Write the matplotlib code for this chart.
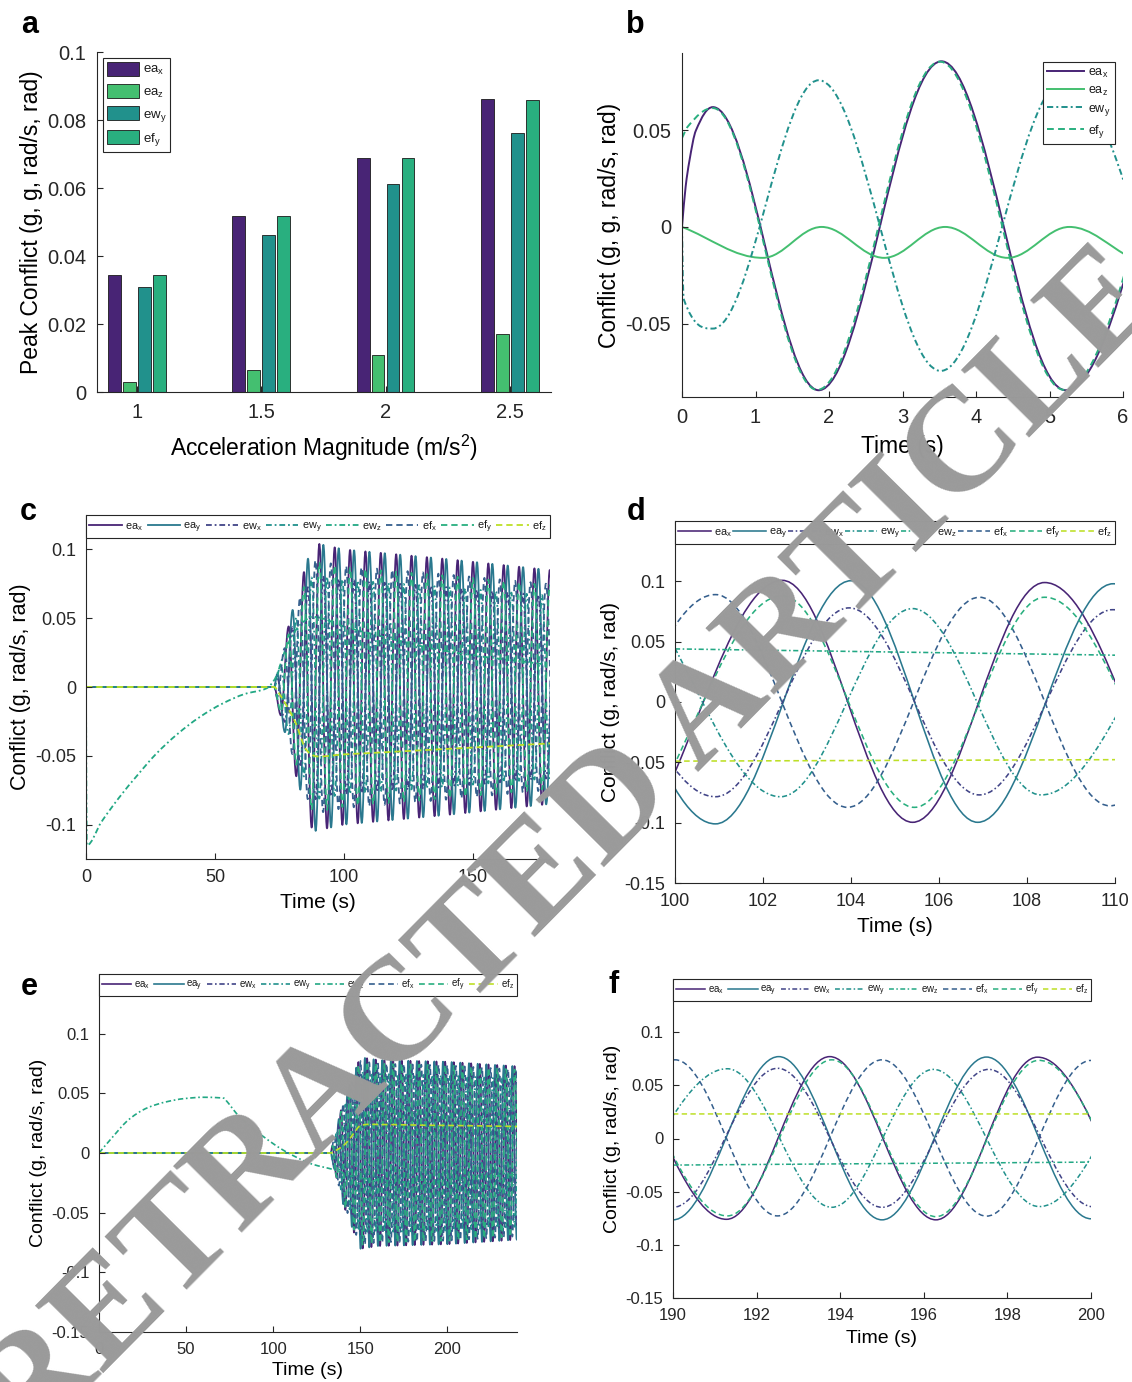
import numpy as np
import matplotlib
matplotlib.use("Agg")
import matplotlib.pyplot as plt
from matplotlib.path import Path
from matplotlib.patches import PathPatch
from matplotlib.lines import Line2D

plt.rcParams.update({
    "font.family": ["Liberation Sans", "DejaVu Sans"],
    "mathtext.fontset": "custom",
    "mathtext.rm": "Liberation Sans",
    "axes.unicode_minus": False,
    "axes.edgecolor": "#262626",
    "xtick.color": "#262626",
    "ytick.color": "#262626",
    "text.color": "#1a1a1a",
})

# ---------------- panel a: peak conflict bars ----------------
acc_mag = [1.0, 1.5, 2.0, 2.5]
peak_ea_x = [0.0345, 0.0518, 0.0689, 0.0861]
peak_ea_z = [0.0028, 0.0064, 0.0110, 0.0170]
peak_ew_y = [0.0309, 0.0461, 0.0613, 0.0763]
peak_ef_y = [0.0345, 0.0517, 0.0689, 0.0859]

# ---------------- panel b: 0-6 s, extrema / key points ----------------
b_ea_x_t = [0, 0.05, 0.10, 0.19, 0.42, 1.86, 3.53, 5.22, 6.89]
b_ea_x_v = [0, 0.021, 0.034, 0.050, 0.062, -0.0845, 0.0857, -0.0845, 0.085]
b_ea_z_t = [0, 1.10, 1.90, 2.75, 3.58, 4.43, 5.27, 6.11]
b_ea_z_v = [0, -0.016, 0, -0.016, 0, -0.016, 0, -0.016]
b_ew_y_t = [0, 0.02, 0.42, 1.86, 3.52, 5.20, 6.87]
b_ew_y_v = [0, -0.037, -0.0526, 0.0759, -0.0745, 0.0759, -0.075]
b_ef_y_t = [0, 0.08, 0.42, 1.84, 3.51, 5.20, 6.87]
b_ef_y_v = [0.046, 0.052, 0.0615, -0.0843, 0.0855, -0.0843, 0.085]

series = ["ea_x", "ea_y", "ew_x", "ew_y", "ew_z", "ef_x", "ef_y", "ef_z"]
labels = [r"ea$_\mathrm{x}$", r"ea$_\mathrm{y}$", r"ew$_\mathrm{x}$", r"ew$_\mathrm{y}$",
          r"ew$_\mathrm{z}$", r"ef$_\mathrm{x}$", r"ef$_\mathrm{y}$", r"ef$_\mathrm{z}$"]
osc = ["ea_x", "ea_y", "ew_x", "ew_y", "ef_x", "ef_y"]

# ---------------- panel c: 0-180 s ----------------
c_onset = 73.0
c_end = 180.0
c_half_period = 2.98
c_env_t = [73, 80, 88, 100, 140, 180]
c_env_v = [0.0, 0.55, 1.05, 1.0, 0.93, 0.85]
c_amp = [0.100, 0.100, 0.078, 0.078, 0.088, 0.087]
c_peak_t = [102.44, 104.0, 103.96, 105.4, 100.92, 102.44]
c_ew_z_t = [0, 0.3, 6, 13, 20, 27, 35.6, 44, 53, 61.7, 70, 73, 78, 83, 88, 100, 110, 140, 180]
c_ew_z_v = [0, -0.115, -0.098, -0.080, -0.064, -0.049, -0.034, -0.022, -0.012, -0.005,
            -0.001, 0.005, 0.030, 0.045, 0.051, 0.044, 0.039, 0.026, 0.016]
c_ef_z_t = [0, 73, 75, 81.3, 85.6, 88.5, 90, 100, 110, 124, 150, 180]
c_ef_z_v = [0, 0, -0.005, -0.026, -0.046, -0.050, -0.0505, -0.049, -0.048, -0.0466, -0.044, -0.041]

# ---------------- panel d: 100-110 s ----------------
d_ea_x_t = [99.46, 102.44, 105.4, 108.4, 111.38]
d_ea_x_v = [-0.100, 0.1008, -0.0997, 0.099, -0.099]
d_ea_y_t = [97.9, 100.92, 104.0, 106.88, 109.96, 112.9]
d_ea_y_v = [0.100, -0.101, 0.1005, -0.0997, 0.098, -0.098]
d_ew_x_t = [97.9, 100.92, 103.96, 106.92, 109.95, 112.9]
d_ew_x_v = [0.078, -0.0785, 0.078, -0.077, 0.0765, -0.076]
d_ew_y_t = [99.45, 102.4, 105.4, 108.32, 111.45]
d_ew_y_v = [0.078, -0.0785, 0.0774, -0.077, 0.077]
d_ew_z_t = [100, 110]
d_ew_z_v = [0.044, 0.0388]
d_ef_x_t = [97.9, 100.92, 103.92, 106.92, 109.88, 112.85]
d_ef_x_v = [-0.088, 0.089, -0.0873, 0.0868, -0.086, 0.086]
d_ef_y_t = [99.46, 102.44, 105.44, 108.4, 111.38]
d_ef_y_v = [-0.087, 0.088, -0.0873, 0.0868, -0.086]
d_ef_z_t = [100, 110]
d_ef_z_v = [-0.049, -0.0478]

# ---------------- panel e: 0-240 s ----------------
e_onset = 133.0
e_end = 240.0
e_half_period = 2.49
e_env_t = [133, 140, 150, 160, 200, 240]
e_env_v = [0.0, 0.55, 1.05, 1.02, 1.0, 0.95]
e_amp = [0.0765, 0.0765, 0.065, 0.065, 0.0735, 0.0735]
e_peak_t = [193.75, 192.53, 192.5, 191.3, 195.0, 193.8]
e_ew_z_t = [0, 7, 17.6, 28, 39, 49, 60, 70, 72, 73, 75, 79, 87.5, 96, 104.4, 113, 121.4,
            130, 135, 150, 190, 200, 240]
e_ew_z_v = [0, 0.012, 0.0286, 0.038, 0.043, 0.0456, 0.0467, 0.0462, 0.0458, 0.044, 0.0405,
            0.033, 0.0217, 0.012, 0.0036, -0.0033, -0.0089, -0.0122, -0.014, -0.021,
            -0.025, -0.022, -0.018]
e_ef_z_t = [0, 133, 137, 140.5, 144.7, 148, 150, 155, 190, 200, 240]
e_ef_z_v = [0, 0, 0.003, 0.0064, 0.0133, 0.020, 0.023, 0.024, 0.0232, 0.0231, 0.0222]

# ---------------- panel f: 190-200 s ----------------
f_ea_x_t = [188.78, 191.28, 193.75, 196.29, 198.72, 201.2]
f_ea_x_v = [0.0765, -0.076, 0.077, -0.0765, 0.0765, -0.0765]
f_ea_y_t = [187.5, 190.0, 192.53, 195.0, 197.5, 200.0, 202.5]
f_ea_y_v = [0.076, -0.0765, 0.077, -0.0765, 0.0766, -0.0755, 0.075]
f_ew_x_t = [187.5, 190.0, 192.5, 195.0, 197.55, 200.05, 202.5]
f_ew_x_v = [0.065, -0.0647, 0.066, -0.0647, 0.065, -0.0642, 0.064]
f_ew_y_t = [188.6, 191.3, 193.8, 196.23, 198.76, 201.25]
f_ew_y_v = [-0.064, 0.0656, -0.0647, 0.065, -0.064, 0.064]
f_ew_z_t = [190, 200]
f_ew_z_v = [-0.025, -0.0222]
f_ef_x_t = [187.55, 190.05, 192.5, 195.0, 197.5, 200.0, 202.5]
f_ef_x_v = [-0.073, 0.074, -0.0728, 0.074, -0.073, 0.0734, -0.073]
f_ef_y_t = [188.8, 191.3, 193.8, 196.29, 198.75, 201.2]
f_ef_y_v = [0.073, -0.0728, 0.074, -0.0735, 0.0735, -0.073]
f_ef_z_t = [190, 200]
f_ef_z_v = [0.0231, 0.0231]

# ---------------- styles ----------------
col = {"ea_x": "#482475", "ea_y": "#2a788e", "ew_x": "#414487", "ew_y": "#21918c",
       "ew_z": "#22a884", "ef_x": "#355f8d", "ef_y": "#29af7f", "ef_z": "#bddf26",
       "ea_z": "#44bf70"}
DASH = (0, (3.5, 2.2))
DASHDOT = (0, (3.2, 1.6, 1.0, 1.6))
sty = {"ea": "-", "ew": DASHDOT, "ef": DASH}

W, H = 1132, 1382


def box(l, t, r, b):
    return [l / W, 1 - b / H, (r - l) / W, (b - t) / H]


def smooth_path(t, v):
    # cubic bezier through the points, flat at turning points
    t = np.asarray(t, float)
    v = np.asarray(v, float)
    d = np.diff(v) / np.diff(t)
    m = np.zeros(len(t))
    m[0] = d[0]
    m[-1] = d[-1]
    for i in range(1, len(t) - 1):
        if d[i - 1] * d[i] > 0:
            h0 = t[i] - t[i - 1]
            h1 = t[i + 1] - t[i]
            w1 = 2 * h1 + h0
            w2 = h1 + 2 * h0
            m[i] = (w1 + w2) / (w1 / d[i - 1] + w2 / d[i])
    a = 0.36
    verts = [(t[0], v[0])]
    codes = [Path.MOVETO]
    for i in range(len(t) - 1):
        h = t[i + 1] - t[i]
        verts += [(t[i] + a * h, v[i] + m[i] * a * h),
                  (t[i + 1] - a * h, v[i + 1] - m[i + 1] * a * h),
                  (t[i + 1], v[i + 1])]
        codes += [Path.CURVE4] * 3
    return Path(verts, codes)


def draw(ax, t, v, name, lw):
    ls = sty[name[:2]] if name != "ea_z" else "-"
    ax.add_patch(PathPatch(smooth_path(t, v), fill=False, edgecolor=col[name],
                           lw=lw, linestyle=ls, capstyle="butt", joinstyle="round"))
    return Line2D([], [], color=col[name], lw=lw, linestyle=ls)


def band(onset, end, half, env_t, env_v, amp, peak):
    k0 = int(np.floor((onset - peak) / half))
    k1 = int(np.ceil((end - peak) / half)) + 1
    tk = peak + half * np.arange(k0, k1)
    sign = np.where(np.arange(k0, k1) % 2 == 0, 1.0, -1.0)
    keep = tk > onset
    tk = tk[keep]
    vk = amp * sign[keep] * np.interp(tk, env_t, env_v)
    return [0.0, onset] + list(tk), [0.0, 0.0] + list(vk)


def style_axes(ax, fs, pad=7):
    for s in ["top", "right"]:
        ax.spines[s].set_visible(False)
    for s in ["left", "bottom"]:
        ax.spines[s].set_linewidth(0.8)
    ax.tick_params(direction="in", length=4, width=0.8, labelsize=fs, pad=pad)


def top_legend(ax, handles, fs):
    leg = ax.legend(handles, labels, loc="upper left", bbox_to_anchor=(0, 1, 1, 0),
                    mode="expand", ncol=8, borderaxespad=0, fontsize=fs,
                    handlelength=3.0, handletextpad=0.3, columnspacing=0.5,
                    borderpad=0.3, fancybox=False, framealpha=1)
    leg.get_frame().set_edgecolor("#262626")
    leg.get_frame().set_linewidth(0.8)
    leg.set_zorder(20)


def ticklabels(vals):
    out = []
    for x in vals:
        s = ("%.2f" % x).rstrip("0").rstrip(".")
        out.append("0" if s in ("-0", "0") else s)
    return out


fig = plt.figure(figsize=(W / 100, H / 100), dpi=100)

# ---- a ----
ax = fig.add_axes(box(97, 52, 551, 392))
bw = 0.051
offs = [-0.09, -0.03, 0.03, 0.09]
xs = np.array(acc_mag)
for o, vals, nm, lab in zip(offs, [peak_ea_x, peak_ea_z, peak_ew_y, peak_ef_y],
                            ["ea_x", "ea_z", "ew_y", "ef_y"],
                            [r"ea$_\mathrm{x}$", r"ea$_\mathrm{z}$", r"ew$_\mathrm{y}$", r"ef$_\mathrm{y}$"]):
    ax.bar(xs + o, vals, width=bw, color=col[nm], edgecolor="#1a1a1a", lw=0.6, label=lab)
ax.set_xlim(0.84, 2.665)
ax.set_ylim(0, 0.1)
ax.set_xticks(acc_mag, ["1", "1.5", "2", "2.5"])
yt = [0, 0.02, 0.04, 0.06, 0.08, 0.1]
ax.set_yticks(yt, ticklabels(yt))
style_axes(ax, 14.5, pad=8)
ax.set_ylabel("Peak Conflict (g, g, rad/s, rad)", fontsize=16.5, labelpad=3)
ax.set_xlabel(r"Acceleration Magnitude (m/s$^\mathrm{2}$)", fontsize=16.5, labelpad=8)
leg = ax.legend(loc="upper left", fontsize=9.5, handlelength=2.4, handleheight=1.25,
                handletextpad=0.3, labelspacing=0.5, borderpad=0.3, borderaxespad=0.45,
                fancybox=False, framealpha=1)
leg.get_frame().set_edgecolor("#262626")
leg.get_frame().set_linewidth(0.8)

# ---- b ----
ax = fig.add_axes(box(682, 53, 1123, 397))
hb = [draw(ax, b_ea_x_t, b_ea_x_v, "ea_x", 1.4),
      draw(ax, b_ea_z_t, b_ea_z_v, "ea_z", 1.4),
      draw(ax, b_ew_y_t, b_ew_y_v, "ew_y", 1.4),
      draw(ax, b_ef_y_t, b_ef_y_v, "ef_y", 1.4)]
ax.set_xlim(0, 6)
ax.set_ylim(-0.088, 0.09)
ax.set_xticks(range(7))
yt = [-0.05, 0, 0.05]
ax.set_yticks(yt, ticklabels(yt))
style_axes(ax, 14.5, pad=8)
ax.set_ylabel("Conflict (g, g, rad/s, rad)", fontsize=16.5, labelpad=3)
ax.set_xlabel("Time (s)", fontsize=16.5, labelpad=6)
leg = ax.legend(hb, [r"ea$_\mathrm{x}$", r"ea$_\mathrm{z}$", r"ew$_\mathrm{y}$", r"ef$_\mathrm{y}$"],
                loc="upper right", fontsize=9, handlelength=3.0, handletextpad=0.3,
                labelspacing=0.4, borderpad=0.35, borderaxespad=0,
                fancybox=False, framealpha=1, bbox_to_anchor=(0.982, 0.973))
leg.get_frame().set_edgecolor("#262626")
leg.get_frame().set_linewidth(0.8)

# ---- c ----
ax = fig.add_axes(box(86, 515, 550, 859))
hc = []
for nm in series:
    if nm in osc:
        i = osc.index(nm)
        t, v = band(c_onset, c_end, c_half_period, c_env_t, c_env_v, c_amp[i], c_peak_t[i])
    elif nm == "ew_z":
        t, v = c_ew_z_t, c_ew_z_v
    else:
        t, v = c_ef_z_t, c_ef_z_v
    hc.append(draw(ax, t, v, nm, 1.3))
ax.set_xlim(0, 180)
ax.set_ylim(-0.125, 0.125)
ax.set_xticks([0, 50, 100, 150])
yt = [-0.1, -0.05, 0, 0.05, 0.1]
ax.set_yticks(yt, ticklabels(yt))
style_axes(ax, 13)
ax.set_ylabel("Conflict (g, rad/s, rad)", fontsize=15.5, labelpad=3)
ax.set_xlabel("Time (s)", fontsize=15, labelpad=5)
top_legend(ax, hc, 7.8)

# ---- d ----
ax = fig.add_axes(box(675, 521, 1115, 883))
dd = [(d_ea_x_t, d_ea_x_v), (d_ea_y_t, d_ea_y_v), (d_ew_x_t, d_ew_x_v), (d_ew_y_t, d_ew_y_v),
      (d_ew_z_t, d_ew_z_v), (d_ef_x_t, d_ef_x_v), (d_ef_y_t, d_ef_y_v), (d_ef_z_t, d_ef_z_v)]
hd = [draw(ax, t, v, nm, 1.15) for (t, v), nm in zip(dd, series)]
ax.set_xlim(100, 110)
ax.set_ylim(-0.15, 0.15)
ax.set_xticks(range(100, 111, 2))
yt = [-0.15, -0.1, -0.05, 0, 0.05, 0.1]
ax.set_yticks(yt, ticklabels(yt))
style_axes(ax, 13)
ax.set_ylabel("Conflict (g, rad/s, rad)", fontsize=15, labelpad=3)
ax.set_xlabel("Time (s)", fontsize=15, labelpad=5)
top_legend(ax, hd, 7.8)

# ---- e ----
ax = fig.add_axes(box(99, 974, 517, 1332))
he = []
for nm in series:
    if nm in osc:
        i = osc.index(nm)
        t, v = band(e_onset, e_end, e_half_period, e_env_t, e_env_v, e_amp[i], e_peak_t[i])
    elif nm == "ew_z":
        t, v = e_ew_z_t, e_ew_z_v
    else:
        t, v = e_ef_z_t, e_ef_z_v
    he.append(draw(ax, t, v, nm, 1.2))
ax.set_xlim(0, 240)
ax.set_ylim(-0.15, 0.15)
ax.set_xticks([0, 50, 100, 150, 200])
yt = [-0.15, -0.1, -0.05, 0, 0.05, 0.1]
ax.set_yticks(yt, ticklabels(yt))
style_axes(ax, 12)
ax.set_ylabel("Conflict (g, rad/s, rad)", fontsize=14, labelpad=3)
ax.set_xlabel("Time (s)", fontsize=14, labelpad=4)
top_legend(ax, he, 7)

# ---- f ----
ax = fig.add_axes(box(673, 979, 1091, 1298))
ff = [(f_ea_x_t, f_ea_x_v), (f_ea_y_t, f_ea_y_v), (f_ew_x_t, f_ew_x_v), (f_ew_y_t, f_ew_y_v),
      (f_ew_z_t, f_ew_z_v), (f_ef_x_t, f_ef_x_v), (f_ef_y_t, f_ef_y_v), (f_ef_z_t, f_ef_z_v)]
hf = [draw(ax, t, v, nm, 1.1) for (t, v), nm in zip(ff, series)]
ax.set_xlim(190, 200)
ax.set_ylim(-0.15, 0.15)
ax.set_xticks(range(190, 201, 2))
yt = [-0.15, -0.1, -0.05, 0, 0.05, 0.1]
ax.set_yticks(yt, ticklabels(yt))
style_axes(ax, 12)
ax.set_ylabel("Conflict (g, rad/s, rad)", fontsize=14, labelpad=3)
ax.set_xlabel("Time (s)", fontsize=14, labelpad=5)
top_legend(ax, hf, 7)

# panel letters
for lab, x, y in [("a", 30, 25), ("b", 635, 25), ("c", 28, 512),
                  ("d", 636, 512), ("e", 29, 987), ("f", 614, 985)]:
    fig.text(x / W, 1 - y / H, lab, fontsize=22, fontweight="bold",
             ha="center", va="center", color="black")

# watermark
fig.text(572 / W, 1 - 850 / H, "RETRACTED ARTICLE", rotation=45.3, rotation_mode="anchor",
         ha="center", va="center", fontsize=106, fontweight="bold",
         family="Liberation Serif", color="#9a9a9a", zorder=50)

fig.savefig("out.png", dpi=100)
